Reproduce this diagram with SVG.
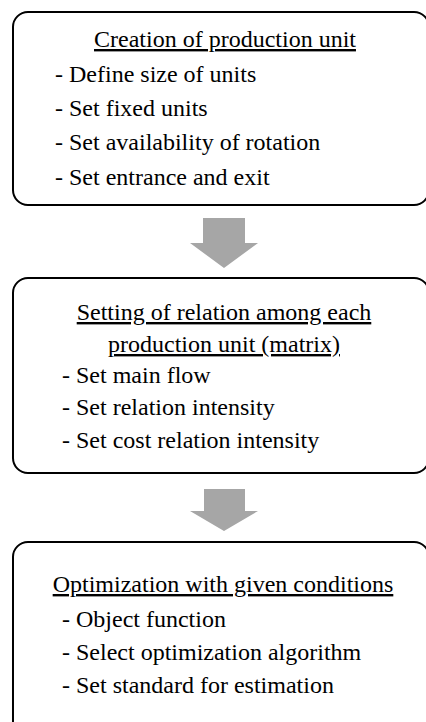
<svg xmlns="http://www.w3.org/2000/svg" width="426" height="722" viewBox="0 0 426 722">
<style>
.box{fill:#fff;stroke:#000;stroke-width:2}
text{font-family:'Liberation Serif','Times New Roman',serif;font-size:24px;fill:#000}
.h{text-anchor:middle;text-decoration:underline}
.arrow{fill:#a6a6a6;stroke:none}
</style>
<rect width="426" height="722" fill="#fff"/>
<g id="node1">
<rect class="box" x="13" y="12" width="416" height="193" rx="15"/>
<text class="h" x="225" y="47">Creation of production unit</text>
<text x="55" y="82">- Define size of units</text>
<text x="55" y="116">- Set fixed units</text>
<text x="55" y="150">- Set availability of rotation</text>
<text x="55" y="185">- Set entrance and exit</text>
</g>
<g id="node2">
<rect class="box" x="13" y="278" width="416" height="195" rx="15"/>
<text class="h" x="224" y="320">Setting of relation among each</text>
<text class="h" x="224" y="352">production unit (matrix)</text>
<text x="62" y="383">- Set main flow</text>
<text x="62" y="415">- Set relation intensity</text>
<text x="62" y="448">- Set cost relation intensity</text>
</g>
<g id="node3">
<rect class="box" x="13" y="542" width="416" height="195" rx="15"/>
<text class="h" x="223" y="592">Optimization with given conditions</text>
<text x="62" y="627">- Object function</text>
<text x="62" y="660">- Select optimization algorithm</text>
<text x="62" y="693">- Set standard for estimation</text>
</g>
<g id="connectors">
<polygon class="arrow" points="203,218 245,218 245,243 258,243 224,268 190,243 203,243"/>
<polygon class="arrow" points="204,489 245,489 245,511 258,511 224,531 190,511 204,511"/>
</g>
</svg>
